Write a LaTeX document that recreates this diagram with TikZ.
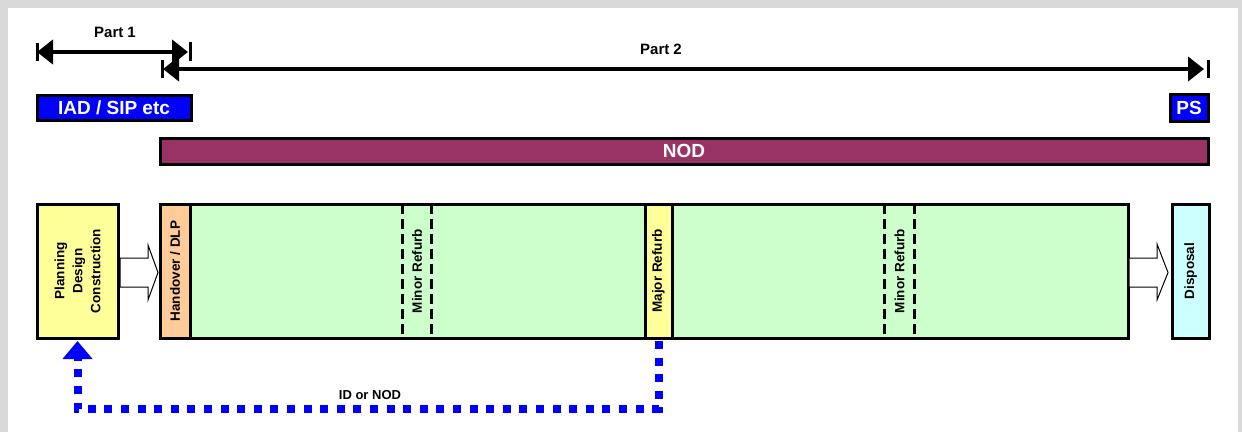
\documentclass[tikz,border=0pt]{standalone}
\usepackage{fontspec}
\setmainfont{Liberation Sans}
\usetikzlibrary{arrows.meta}
\definecolor{framegrey}{HTML}{D9D9D9}
\definecolor{barblue}{HTML}{0000FF}
\definecolor{nodpurple}{HTML}{993366}
\definecolor{yfill}{HTML}{FFFF99}
\definecolor{ofill}{HTML}{FFCC99}
\definecolor{gfill}{HTML}{CCFFCC}
\definecolor{cfill}{HTML}{CCFFFF}
\tikzset{
  box/.style={draw=black, line width=3pt, inner sep=0pt, minimum height=134pt},
  bar/.style={draw=black, line width=3pt, inner sep=0pt, text=white,
    font=\fontsize{19}{22}\selectfont\bfseries},
  vtext/.style={rotate=90, align=center, inner sep=0pt,
    font=\fontsize{13.5}{18}\selectfont\bfseries},
  toptext/.style={font=\fontsize{15}{18}\selectfont\bfseries, inner sep=0pt},
  dimarrowboth/.style={line width=4pt, {Triangle[length=16pt,width=24pt]}-{Triangle[length=16pt,width=24pt]}},
  tickmark/.style={line width=3pt},
  dashline/.style={line width=3pt, dash pattern=on 10pt off 5pt},
  blockarrow/.style={draw=black, line width=1pt, fill=white, line join=miter},
  dotline/.style={draw=barblue, line width=8pt, dash pattern=on 8pt off 8.6pt,
    -{Triangle[length=18pt,width=29pt]}},
}
\begin{document}
\begin{tikzpicture}[x=1pt,y=-1pt]
\fill[framegrey] (0,0) rectangle (1242,432);
\fill[white] (8,8) rectangle (1238,432);
\useasboundingbox (0,0) rectangle (1242,432);

% Part arrows
\coordinate (p1l) at (37,52);
\coordinate (p1r) at (190,52);
\coordinate (p2l) at (162,69);
\coordinate (p2r) at (1208,69);
\draw[tickmark] ([yshift=9pt]p1l) -- ([yshift=-9pt]p1l);
\draw[tickmark] ([yshift=10pt]p1r) -- ([yshift=-9pt]p1r);
\draw[tickmark] ([yshift=9pt]p2l) -- ([yshift=-9pt]p2l);
\draw[tickmark] ([yshift=9pt]p2r) -- ([yshift=-9pt]p2r);
\draw[dimarrowboth] (p1l) -- ([xshift=-2pt]p1r);
\draw[dimarrowboth] ([xshift=1pt]p2l) -- ([xshift=-4pt]p2r);
\node[toptext] (part1) at (115,32) {Part 1};
\node[toptext] (part2) at (661,49) {Part 2};

% Bars
\node[bar, fill=barblue, minimum width=154pt, minimum height=25pt] (iad) at (114,107.5) {IAD / SIP etc};
\node[bar, fill=barblue, minimum width=38pt, minimum height=27pt] (ps) at (1189,107.5) {PS};
\node[bar, fill=nodpurple, minimum width=1048pt, minimum height=26pt] (nod) at (684,151) {NOD};

% Lifecycle boxes
\node[box, fill=yfill, minimum width=81pt] (plan) at (77.5,271) {};
\node[vtext] at (plan.center) {Planning\\Design\\Construction};

\node[box, fill=gfill, minimum width=938pt] (life) at (659,271) {};
\node[box, fill=ofill, minimum width=30pt] (hand) at (175,271) {};
\node[vtext] at (hand.center) {Handover / DLP};

\node[inner sep=0pt, minimum width=28pt, minimum height=134pt] (minor1) at (417,271) {};
\draw[dashline] (minor1.north west) -- (minor1.south west);
\draw[dashline] (minor1.north east) -- (minor1.south east);
\node[vtext] at (minor1.center) {Minor Refurb};

\node[box, fill=yfill, minimum width=27pt] (major) at (658.5,271) {};
\node[vtext] at (major.center) {Major Refurb};

\node[inner sep=0pt, minimum width=29pt, minimum height=134pt] (minor2) at (899.5,271) {};
\draw[dashline] (minor2.north west) -- (minor2.south west);
\draw[dashline] (minor2.north east) -- (minor2.south east);
\node[vtext] at (minor2.center) {Minor Refurb};

\node[box, fill=cfill, minimum width=37pt] (disp) at (1190.5,271) {};
\node[vtext] at (disp.center) {Disposal};

% Block arrows
\draw[blockarrow] (120,258) -- (148,258) -- (148,245) -- (158,272.5) -- (148,300) -- (148,287) -- (120,287) -- cycle;
\draw[blockarrow] (1129,258) -- (1157,258) -- (1157,244) -- (1168,272.5) -- (1157,300) -- (1157,287) -- (1129,287) -- cycle;

% Dotted feedback connector
\draw[dotline] ([yshift=-1.5pt]major.south) -- ++(0,68) -| ([yshift=-1.5pt]plan.south);
\node[font=\fontsize{13}{15}\selectfont\bfseries, inner sep=0pt] (idnod) at (370,395) {ID or NOD};
\end{tikzpicture}
\end{document}
